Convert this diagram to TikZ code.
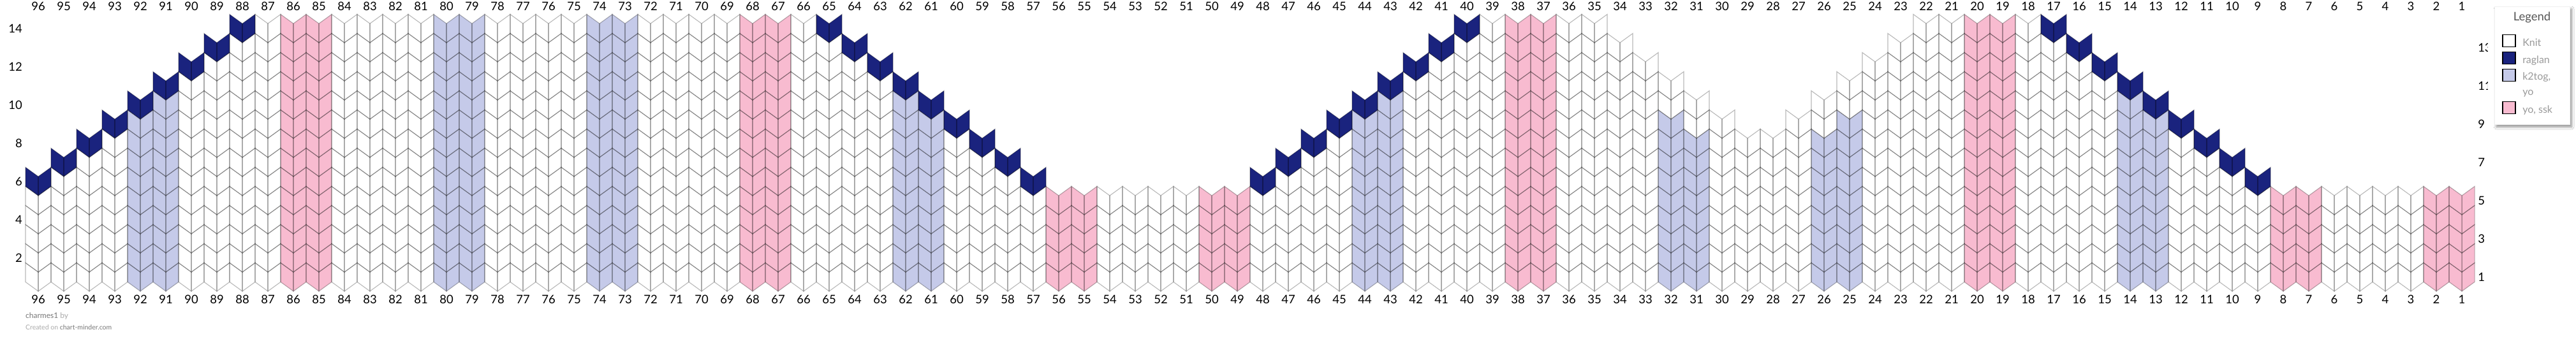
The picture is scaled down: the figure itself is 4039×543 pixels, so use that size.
\documentclass[tikz,border=0pt]{standalone}
\usepackage{fontspec}
\setmainfont{Lato}
\usetikzlibrary{shadows.blur}
\definecolor{navyc}{HTML}{1A237E}
\definecolor{lavc}{HTML}{C5CAE9}
\definecolor{pinkc}{HTML}{F8BBD0}
\definecolor{footdark}{HTML}{777777}
\definecolor{footlight}{HTML}{AAAAAA}
\definecolor{legtitlec}{HTML}{555555}
\definecolor{legtextc}{HTML}{9A9A9A}
\def\chartdata{96/6/0/1/0,95/7/0/1/0,94/8/0/1/0,93/9/0/1/0,92/10/9/1/0,91/11/10/1/0,90/12/0/1/0,89/13/0/1/0,88/14/0/1/0,
87/14/0/0/0,86/14/0/0/1,85/14/0/0/1,84/14/0/0/0,83/14/0/0/0,82/14/0/0/0,81/14/0/0/0,80/14/14/0/0,79/14/14/0/0,
78/14/0/0/0,77/14/0/0/0,76/14/0/0/0,75/14/0/0/0,74/14/14/0/0,73/14/14/0/0,72/14/0/0/0,71/14/0/0/0,70/14/0/0/0,69/14/0/0/0,
68/14/0/0/1,67/14/0/0/1,66/14/0/0/0,65/14/0/1/0,64/13/0/1/0,63/12/0/1/0,62/11/10/1/0,61/10/9/1/0,60/9/0/1/0,59/8/0/1/0,
58/7/0/1/0,57/6/0/1/0,56/5/0/0/1,55/5/0/0/1,54/5/0/0/0,53/5/0/0/0,52/5/0/0/0,51/5/0/0/0,50/5/0/0/1,49/5/0/0/1,
48/6/0/1/0,47/7/0/1/0,46/8/0/1/0,45/9/0/1/0,44/10/9/1/0,43/11/10/1/0,42/12/0/1/0,41/13/0/1/0,40/14/0/1/0,
39/14/0/0/0,38/14/0/0/1,37/14/0/0/1,36/14/0/0/0,35/14/0/0/0,34/13/0/0/0,33/12/0/0/0,32/11/9/0/0,31/10/8/0/0,
30/9/0/0/0,29/8/0/0/0,28/8/0/0/0,27/9/0/0/0,26/10/8/0/0,25/11/9/0/0,24/12/0/0/0,23/13/0/0/0,22/14/0/0/0,21/14/0/0/0,
20/14/0/0/1,19/14/0/0/1,18/14/0/0/0,17/14/0/1/0,16/13/0/1/0,15/12/0/1/0,14/11/10/1/0,13/10/9/1/0,12/9/0/1/0,
11/8/0/1/0,10/7/0/1/0,9/6/0/1/0,8/5/0/0/1,7/5/0/0/1,6/5/0/0/0,5/5/0/0/0,4/5/0/0/0,3/5/0/0/0,2/5/0/0/1,1/5/0/0/1}
\tikzset{
  cellline/.style={draw=black, draw opacity=0.28, line width=1.1pt},
  numlbl/.style={font=\fontsize{18.5}{22}\selectfont, inner sep=0pt, text=black},
  legtxt/.style={font=\fontsize{16}{19}\selectfont, text=legtextc, anchor=base west, inner sep=0pt},
  legbox/.style={draw=black, line width=1.2pt},
  foottxt/.style={anchor=base west, inner sep=0pt}
}
\begin{document}
\begin{tikzpicture}[x=1pt,y=-1pt]
\useasboundingbox (0,0) rectangle (4039,543);
\fill[white] (0,0) rectangle (4039,543);
% fills
\foreach \c/\t/\l/\n/\p in \chartdata {
  \pgfmathsetmacro\L{40+(96-\c)*40}
  \foreach \r in {1,...,\t} {
    \pgfmathsetmacro\yt{442.5-30*\r}
    \def\col{white}%
    \ifnum\p=1 \def\col{pinkc}\fi
    \ifnum\r>\l\relax\else\def\col{lavc}\fi
    \ifnum\n=1 \ifnum\r=\t\relax\def\col{navyc}\fi\fi
    \fill[\col] (\L,\yt) -- ++(20,14.5) -- ++(20,-14.5) -- ++(0,30) -- ++(-20,14.5) -- ++(-20,-14.5) -- cycle;
  }
}
% strokes
\foreach \c/\t/\l/\n/\p in \chartdata {
  \pgfmathsetmacro\L{40+(96-\c)*40}
  \foreach \r in {1,...,\t} {
    \pgfmathsetmacro\yt{442.5-30*\r}
    \draw[cellline] (\L,\yt) -- ++(20,14.5) -- ++(0,30) -- ++(-20,-14.5) -- cycle;
    \draw[cellline] (\L+20,\yt+14.5) -- ++(20,-14.5) -- ++(0,30) -- ++(-20,14.5) -- cycle;
  }
}
% column labels
\foreach \c in {1,...,96} {
  \node[numlbl] (ct\c) at ({40+(96-\c)*40+20},9.5) {\c};
  \node[numlbl] (cb\c) at ({40+(96-\c)*40+20},469.5) {\c};
}
% row labels
\foreach \r in {2,4,...,14} {
  \node[numlbl, anchor=east] (rl\r) at (35,{442.5-30*\r+22.25}) {\r};
}
\foreach \r in {1,3,...,13} {
  \node[numlbl, anchor=west] (rr\r) at (3885,{442.5-30*\r+22.25}) {\r};
}
% footer
\node[foottxt, font=\fontsize{12}{14}\selectfont] (foot1) at (40,499.5) {\textcolor{footdark}{charmes1} \textcolor{footlight}{by}};
\node[foottxt, font=\fontsize{10.5}{12}\selectfont] (foot2) at (40,517.5) {\textcolor{footlight}{Created on} \textcolor{footdark}{chart-minder.com}};
% legend
\fill[white] (3901,6) rectangle (4039,200);
\draw[fill=white, draw=black!6, blur shadow={shadow xshift=3pt,shadow yshift=-4pt,shadow blur radius=4pt,shadow opacity=45}] (3911,10) rectangle (4029,195);
\node[font=\fontsize{18.5}{22}\selectfont, text=legtitlec, inner sep=0pt] (legtitle) at (3970,27) {Legend};
\draw[legbox, fill=white] (3924,54.7) rectangle (3944,73.4);
\node[legtxt] (lknit) at (3955,72.4) {Knit};
\draw[legbox, fill=navyc] (3924,81.7) rectangle (3944,100.4);
\node[legtxt] (lrag) at (3955,99.4) {raglan};
\draw[legbox, fill=lavc] (3924,108.7) rectangle (3944,127.4);
\node[legtxt] (lk2) at (3955,125.8) {k2tog,};
\node[legtxt] (lyo) at (3955,149.6) {yo};
\draw[legbox, fill=pinkc] (3924,159.6) rectangle (3944,178.3);
\node[legtxt] (lssk) at (3955,177.3) {yo, ssk};
\end{tikzpicture}
\end{document}
